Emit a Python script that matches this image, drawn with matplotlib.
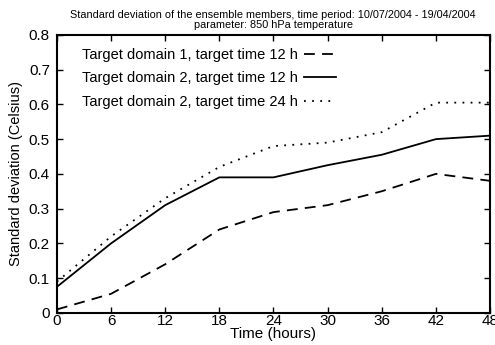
import matplotlib
matplotlib.use("Agg")
import matplotlib.pyplot as plt

plt.rcParams["font.family"] = ["Liberation Sans", "DejaVu Sans"]

hours = [0, 6, 12, 18, 24, 30, 36, 42, 48]
domain1_12h = [0.01, 0.055, 0.14, 0.24, 0.29, 0.31, 0.35, 0.40, 0.38]
domain2_12h = [0.075, 0.20, 0.31, 0.39, 0.39, 0.425, 0.455, 0.50, 0.51]
domain2_24h = [0.09, 0.22, 0.33, 0.42, 0.48, 0.49, 0.52, 0.605, 0.605]

labels = [
    "Target domain 1, target time 12 h",
    "Target domain 2, target time 12 h",
    "Target domain 2, target time 24 h",
]

fig = plt.figure(figsize=(4.95, 3.45), dpi=100)
ax = fig.add_axes([0.115, 0.093, 0.875, 0.806])

ax.plot(hours, domain1_12h, color="black", lw=1.3, ls=(0, (6, 4)), label=labels[0])
ax.plot(hours, domain2_12h, color="black", lw=1.3, ls="-", label=labels[1])
ax.plot(hours, domain2_24h, color="black", lw=1.3, ls=(0, (1, 3.5)), label=labels[2])

ax.set_xlim(0, 48)
ax.set_ylim(0, 0.8)
ax.set_xticks(hours)
ax.set_yticks([0, 0.1, 0.2, 0.3, 0.4, 0.5, 0.6, 0.7, 0.8])
ax.set_yticklabels(["0", "0.1", "0.2", "0.3", "0.4", "0.5", "0.6", "0.7", "0.8"])
ax.tick_params(direction="in", top=True, right=True, length=4, width=1, labelsize=11, pad=1)
ax.tick_params(axis="y", pad=5)
for side in ax.spines.values():
    side.set_linewidth(1.5)

ax.set_xlabel("Time (hours)", fontsize=11, labelpad=-1)
ax.set_ylabel("Standard deviation (Celsius)", fontsize=10.5, labelpad=4)

leg = ax.legend(loc="upper left", bbox_to_anchor=(0.028, 1.0), frameon=False, markerfirst=False,
                fontsize=10.5, handlelength=2.2, handletextpad=0.4, labelspacing=0.65)

fig.text(0.552, 0.972, "Standard deviation of the ensemble members, time period: 10/07/2004 - 19/04/2004",
         ha="center", va="top", fontsize=7.8)
fig.text(0.552, 0.941, "parameter: 850 hPa temperature", ha="center", va="top", fontsize=7.8)

fig.savefig("out.png", dpi=100)
